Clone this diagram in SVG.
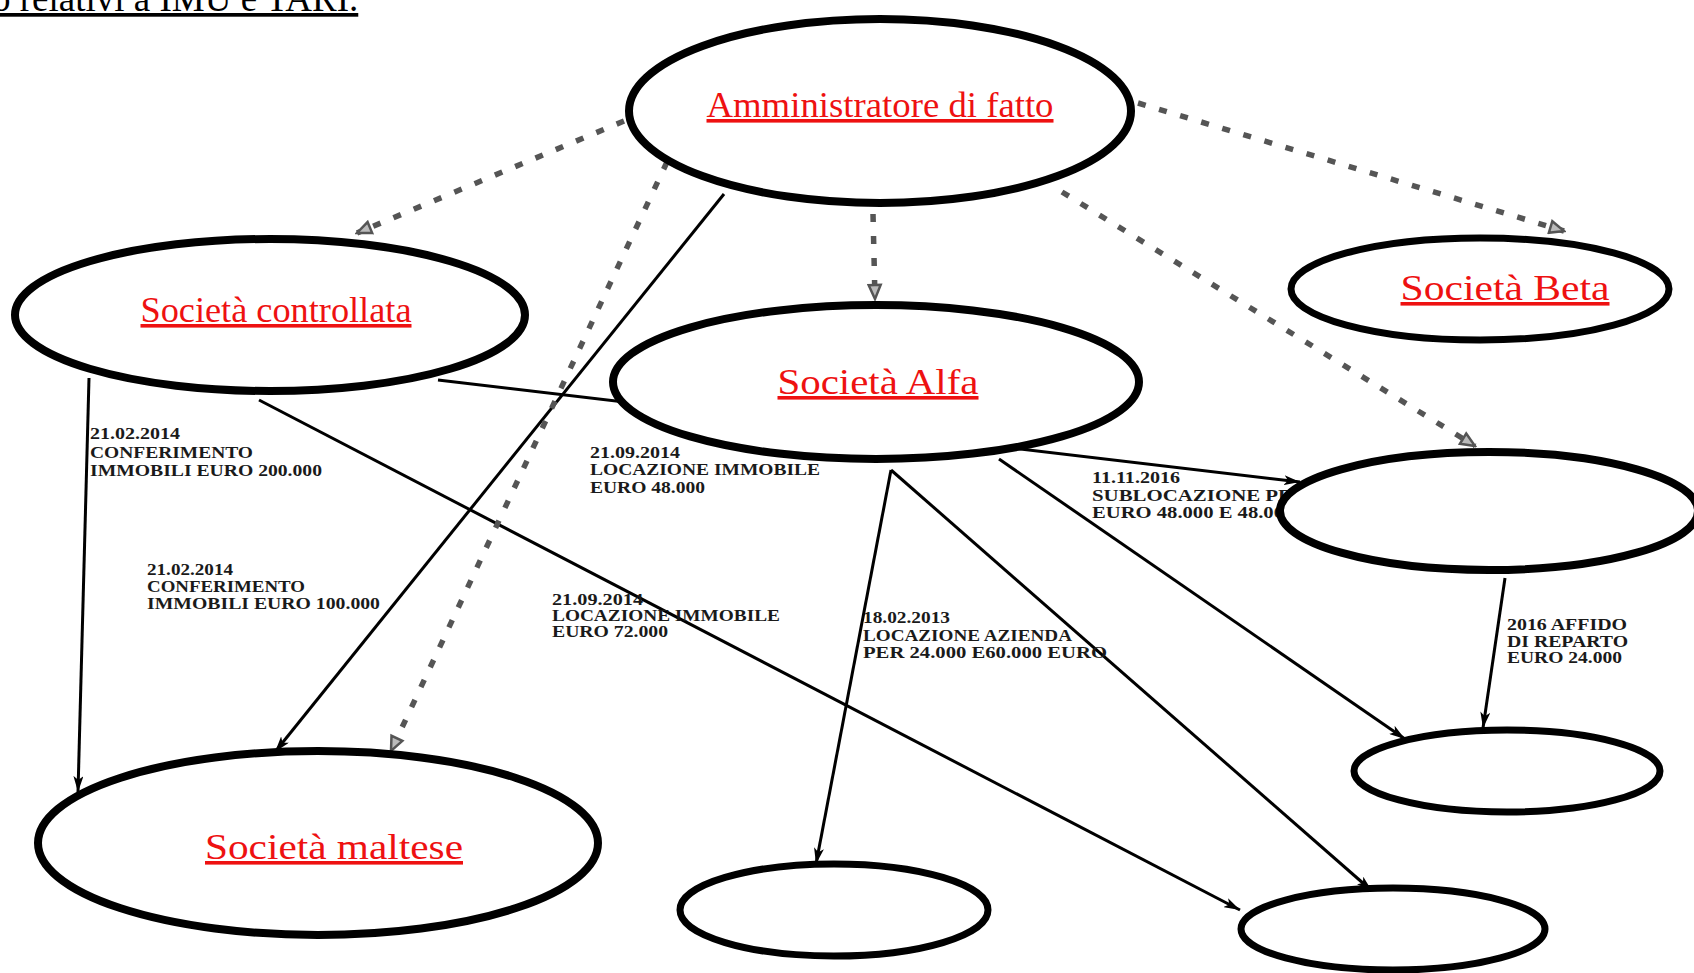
<svg xmlns="http://www.w3.org/2000/svg" width="1694" height="973" viewBox="0 0 1694 973">
<style>
.node{fill:#fff;stroke:#000;stroke-width:8}
.nodes{stroke-width:7}
.title{font-family:"Liberation Serif","Times New Roman",serif;font-size:36px;fill:#ee1111;text-decoration:underline;text-anchor:middle}
.head{font-family:"Liberation Serif","Times New Roman",serif;font-size:37px;fill:#000;text-decoration:underline}
.lab{font-family:"Liberation Serif","Times New Roman",serif;font-size:16px;font-weight:bold;fill:#1a1a1a}
.solid{stroke:#000;stroke-width:3;fill:none}
.dash{stroke:#555;stroke-width:5.5;stroke-dasharray:8 14;fill:none}
</style>
<defs>
<marker id="ah" viewBox="0 0 16 10" refX="16" refY="5" markerWidth="16" markerHeight="10" markerUnits="userSpaceOnUse" orient="auto"><path d="M0,0 L16,5 L0,10 L4,5 z" fill="#000"/></marker>
<marker id="ad" viewBox="0 0 18 16" refX="16" refY="8" markerWidth="18" markerHeight="16" markerUnits="userSpaceOnUse" orient="auto"><path d="M2,2 L16,8 L2,14 z" fill="#bbb" stroke="#555" stroke-width="2.5"/></marker>
</defs>
<rect width="1694" height="973" fill="#fff"/>
<text class="head" x="-8" y="11">o relativi a IMU e TARI.</text>

<g id="connectors">
<line class="solid" x1="89" y1="378" x2="78" y2="792" marker-end="url(#ah)"/>
<line class="solid" x1="259" y1="400" x2="1240" y2="910" marker-end="url(#ah)"/>
<line class="solid" x1="438" y1="380" x2="1300" y2="482" marker-end="url(#ah)"/>
<line class="solid" x1="724" y1="194" x2="275" y2="752" marker-end="url(#ah)"/>
<line class="solid" x1="891" y1="470" x2="816" y2="864" marker-end="url(#ah)"/>
<line class="solid" x1="891" y1="470" x2="1372" y2="891" marker-end="url(#ah)"/>
<line class="solid" x1="999" y1="459" x2="1405" y2="739" marker-end="url(#ah)"/>
<line class="solid" x1="1505" y1="578" x2="1483" y2="728" marker-end="url(#ah)"/>
<line class="dash" x1="624" y1="121" x2="357" y2="233" marker-end="url(#ad)"/>
<line class="dash" x1="1138" y1="103" x2="1564" y2="231" marker-end="url(#ad)"/>
<line class="dash" x1="873" y1="214" x2="875" y2="299" marker-end="url(#ad)"/>
<line class="dash" x1="1062" y1="192" x2="1475" y2="446" marker-end="url(#ad)"/>
<line class="dash" x1="667" y1="162" x2="391" y2="751" marker-end="url(#ad)"/>
</g>

<g id="edge-labels">
<text class="lab" x="90" y="439" textLength="90" lengthAdjust="spacingAndGlyphs">21.02.2014</text>
<text class="lab" x="90" y="458" textLength="163" lengthAdjust="spacingAndGlyphs">CONFERIMENTO</text>
<text class="lab" x="90" y="476" textLength="232" lengthAdjust="spacingAndGlyphs">IMMOBILI EURO 200.000</text>
<text class="lab" x="147" y="575" textLength="86" lengthAdjust="spacingAndGlyphs">21.02.2014</text>
<text class="lab" x="147" y="592" textLength="158" lengthAdjust="spacingAndGlyphs">CONFERIMENTO</text>
<text class="lab" x="147" y="609" textLength="233" lengthAdjust="spacingAndGlyphs">IMMOBILI EURO 100.000</text>
<text class="lab" x="590" y="458" textLength="90" lengthAdjust="spacingAndGlyphs">21.09.2014</text>
<text class="lab" x="590" y="475" textLength="230" lengthAdjust="spacingAndGlyphs">LOCAZIONE IMMOBILE</text>
<text class="lab" x="590" y="493" textLength="115" lengthAdjust="spacingAndGlyphs">EURO 48.000</text>
<text class="lab" x="552" y="605" textLength="91" lengthAdjust="spacingAndGlyphs">21.09.2014</text>
<text class="lab" x="552" y="621" textLength="228" lengthAdjust="spacingAndGlyphs">LOCAZIONE IMMOBILE</text>
<text class="lab" x="552" y="637" textLength="116" lengthAdjust="spacingAndGlyphs">EURO 72.000</text>
<text class="lab" x="863" y="623" textLength="87" lengthAdjust="spacingAndGlyphs">18.02.2013</text>
<text class="lab" x="863" y="641" textLength="209" lengthAdjust="spacingAndGlyphs">LOCAZIONE AZIENDA</text>
<text class="lab" x="863" y="658" textLength="244" lengthAdjust="spacingAndGlyphs">PER 24.000 E60.000 EURO</text>
<text class="lab" x="1092" y="483" textLength="88" lengthAdjust="spacingAndGlyphs">11.11.2016</text>
<text class="lab" x="1092" y="501" textLength="200" lengthAdjust="spacingAndGlyphs">SUBLOCAZIONE PE</text>
<text class="lab" x="1092" y="518" textLength="192" lengthAdjust="spacingAndGlyphs">EURO 48.000 E 48.00</text>
<text class="lab" x="1507" y="630" textLength="120" lengthAdjust="spacingAndGlyphs">2016 AFFIDO</text>
<text class="lab" x="1507" y="647" textLength="121" lengthAdjust="spacingAndGlyphs">DI REPARTO</text>
<text class="lab" x="1507" y="663" textLength="115" lengthAdjust="spacingAndGlyphs">EURO 24.000</text>
</g>

<g id="amministratore"><ellipse class="node" cx="880" cy="111" rx="251" ry="92" stroke-width="9"/><text class="title" x="880" y="117" textLength="347" lengthAdjust="spacingAndGlyphs">Amministratore di fatto</text></g>
<g id="controllata"><ellipse class="node" cx="270" cy="315" rx="255" ry="76"/><text class="title" x="276" y="322" textLength="271" lengthAdjust="spacingAndGlyphs">Società controllata</text></g>
<g id="alfa"><ellipse class="node" cx="876" cy="382" rx="263" ry="77"/><text class="title" x="878" y="394" textLength="201" lengthAdjust="spacingAndGlyphs">Società Alfa</text></g>
<g id="beta"><ellipse class="node nodes" cx="1480" cy="289" rx="189" ry="51"/><text class="title" x="1505" y="300" textLength="209" lengthAdjust="spacingAndGlyphs">Società Beta</text></g>
<g id="destra"><ellipse class="node" cx="1489" cy="511" rx="209" ry="59"/></g>
<g id="maltese"><ellipse class="node" cx="318" cy="843" rx="280" ry="92"/><text class="title" x="334" y="859" textLength="258" lengthAdjust="spacingAndGlyphs">Società maltese</text></g>
<g id="basso-centro"><ellipse class="node nodes" cx="834" cy="910" rx="154" ry="46"/></g>
<g id="basso-destra"><ellipse class="node nodes" cx="1393" cy="929" rx="152" ry="41"/></g>
<g id="destra-piccola"><ellipse class="node nodes" cx="1507" cy="771" rx="153" ry="41"/></g>
</svg>
